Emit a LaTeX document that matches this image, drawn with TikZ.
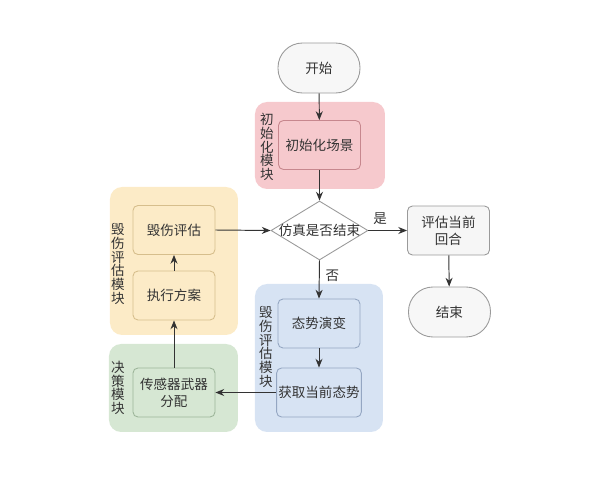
\documentclass[tikz,border=0pt]{standalone}
\usepackage{fontspec}
\newfontfamily\cjk{Noto Sans CJK SC}
\usetikzlibrary{arrows.meta,shapes.geometric}
\definecolor{txt}{HTML}{333333}
\definecolor{pinkbg}{HTML}{F6C9CD}
\definecolor{pinkln}{HTML}{C7878E}
\definecolor{yellowbg}{HTML}{FCEBC7}
\definecolor{yellowln}{HTML}{D6BE8C}
\definecolor{greenbg}{HTML}{D6E7D3}
\definecolor{greenln}{HTML}{9DB59A}
\definecolor{bluebg}{HTML}{D7E3F3}
\definecolor{blueln}{HTML}{94A6C2}
\definecolor{grayln}{HTML}{9A9A9A}
\tikzset{
  every node/.style={font=\cjk\fontsize{7.7}{9.6}\selectfont, text=txt},
  box/.style={draw=#1, line width=0.5pt, rounded corners=2.8pt, inner xsep=1pt, minimum width=1.64cm, minimum height=0.98cm, align=center},
  term/.style={draw=grayln, fill=gray!6, line width=0.5pt, rounded corners=0.49cm, minimum width=1.64cm, minimum height=1cm},
  group/.style={fill=#1, rounded corners=0.24cm},
  vlabel/.style={align=center, font=\cjk\fontsize{7.7}{7.8}\selectfont},
  flow/.style={draw=txt, line width=0.55pt, -{Stealth[length=5pt,width=4pt]}}
}
\begin{document}
\begin{tikzpicture}[x=0.02cm, y=-0.02cm]
	\useasboundingbox (0,0) rectangle (600,480);
	\fill[group=pinkbg] (255,102) rectangle (385,189);
	\fill[group=yellowbg] (110,187) rectangle (238,335);
	\fill[group=greenbg] (109,344) rectangle (238,432);
	\fill[group=bluebg] (255,284) rectangle (383,432);
	\node[vlabel] (pinklab) at (267,147) {初\\始\\化\\模\\块};
	\node[vlabel] (yellowlab) at (118,264) {毁\\伤\\评\\估\\模\\块};
	\node[vlabel] (greenlab) at (118,388) {决\\策\\模\\块};
	\node[vlabel] (bluelab) at (266,347) {毁\\伤\\评\\估\\模\\块};
	\node[term] (start) at (319,68) {开始};
	\node[box=pinkln] (init) at (319.5,145) {初始化场景};
	\node[diamond, draw=grayln, fill=white, line width=0.5pt, inner sep=0pt, minimum width=1.94cm, minimum height=1.18cm] (sim) at (319.5,230.5) {};
	\node (simtxt) at (sim.center) {仿真是否结束};
	\node[box=grayln, fill=gray!7] (eval) at (448.5,230.5) {评估当前\\回合};
	\node[term] (stop) at (449.5,312) {结束};
	\node[box=yellowln] (assess) at (174,230) {毁伤评估};
	\node[box=yellowln] (exec) at (174,295.5) {执行方案};
	\node[box=greenln] (alloc) at (174,392.5) {传感器武器\\分配};
	\node[box=blueln] (evolve) at (319,323.5) {态势演变};
	\node[box=blueln] (get) at (319,392.5) {获取当前态势};
	\draw[flow] (start) -- (init);
	\draw[flow] (init) -- (sim);
	\draw[flow] (sim.east) -- node[above, pos=0.3] (yes) {是} (eval.west);
	\draw[flow] (eval) -- (stop);
	\draw[flow] (sim.south) -- node[right, pos=0.4] (no) {否} (evolve.north);
	\draw[flow] (evolve) -- (get);
	\draw[flow] (get.west) -- (alloc.east);
	\draw[flow] (alloc) -- (exec);
	\draw[flow] (exec) -- (assess);
	\draw[flow] (assess.east) -- (sim.west);
\end{tikzpicture}
\end{document}
